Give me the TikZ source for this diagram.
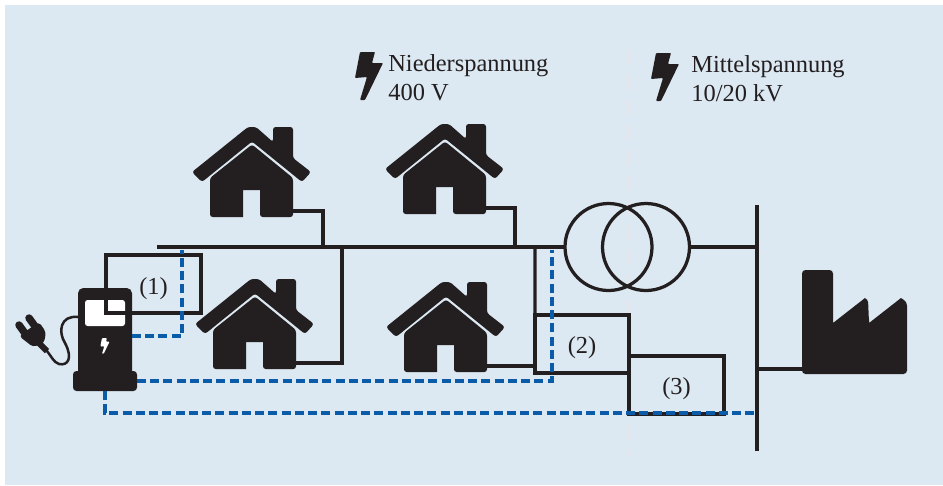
\documentclass[tikz,border=0pt]{standalone}
\usepackage{fontspec}
\setmainfont{Liberation Serif}
\usetikzlibrary{positioning,calc}
\definecolor{panelblue}{HTML}{DCE8F2}
\definecolor{inkblack}{HTML}{231F20}
\definecolor{linkblue}{HTML}{0B5CA8}
\definecolor{zonegray}{HTML}{E9E4E8}
\tikzset{
    wire/.style={draw=inkblack, line width=0.065cm},
    link/.style={draw=linkblue, line width=0.07cm, dash pattern=on 0.18cm off 0.085cm},
    boxnode/.style={rectangle, wire, inner sep=0pt, outer sep=0pt},
    coil/.style={circle, wire, minimum size=1.74cm, inner sep=0pt, outer sep=0pt},
    boxlabel/.style={font=\fontsize{13.9}{16.5}\selectfont, text=inkblack, inner sep=0pt},
    zonelabel/.style={boxlabel, align=left, anchor=base west},
    pics/house/.style={code={
        \fill[inkblack, rounded corners=1.5pt] (-42,51) -- (0,17.5) -- (41,51) -- (41,90) -- (8,90) [sharp corners] -- (8,63) -- (-9,63) -- (-9,90) [rounded corners=1.5pt] -- (-42,90) -- cycle;
        \fill[inkblack, rounded corners=1.5pt] (-60,45) -- (-50,55) -- (0,14.5) -- (50,55) -- (59,45) -- (41,31) -- (41,0) -- (21,0) -- (21,15) -- (4,0) -- (-4,0) -- cycle;
        \coordinate (-port) at (41,84);
    }},
    pics/bolt/.style={code={
        \fill[#1, rounded corners=0.5pt] (0,0) -- (15,0) -- (12,11) -- (23,11) -- (5,48) -- (0,48) -- (7,25) -- (-5,26) -- cycle;
    }},
    pics/charger/.style={code={
        \fill[inkblack, rounded corners=3pt] (-27,90) -- (-27,0) -- (27,0) -- (27,90) -- cycle;
        \fill[inkblack, rounded corners=2pt] (-32,83) -- (32,83) -- (32,103) -- (-32,103) -- cycle;
        \fill[white, rounded corners=1.5pt] (-20,12) -- (20,12) -- (20,38) -- (-20,38) -- cycle;
        \coordinate (-cable) at (-27,29);
        \coordinate (-screen) at (27,48);
        \coordinate (-base) at (32,93);
        \coordinate (-foot) at (0,103);
    }},
    pics/plug/.style={code={
        \fill[inkblack, rounded corners=2pt] (19,336) -- (39,322) -- (46,332) -- (44,343) -- (33,347) -- cycle;
        \draw[inkblack, line width=0.15cm, line cap=round] (29,318) -- (37,329);
        \draw[inkblack, line width=0.15cm, line cap=round] (19,325) -- (27,336);
        \draw[inkblack, line width=0.12cm] (38,342) -- (47,351);
        \coordinate (-tail) at (46,350);
    }},
    pics/factory/.style={code={
        \fill[inkblack, rounded corners=2pt] (0,0) -- (31,0) -- (31,53) [sharp corners] -- (31,53) -- (63,28) [rounded corners=2pt] -- (66,29) -- (67,53) [sharp corners] -- (67,53) -- (99,28) [rounded corners=2pt] -- (105,32) -- (105,104) -- (0,104) -- cycle;
        \coordinate (-port) at (0,99);
    }},
}
\begin{document}
\begin{tikzpicture}[x=0.02cm, y=-0.02cm]
    \useasboundingbox (0,0) rectangle (943,485);
    \fill[panelblue] (5,5) rectangle (943,485);

    % Zone border
    \coordinate (zoneTop) at (628,50);
    \coordinate (zoneBottom) at (628,457);
    \draw[zonegray, line width=0.05cm, dash pattern=on 0.3cm off 0.2cm] (zoneTop) -- (zoneBottom);

    % Voltage labels
    \pic (boltLV) at (360,52) {bolt=inkblack};
    \pic (boltMV) at (656,53) {bolt=inkblack};
    \node[zonelabel] (labelLV) at (388,100.5) {Niederspannung\\400 V};
    \node[zonelabel] (labelMV) at (691,101) {Mittelspannung\\10/20 kV};

    % Houses
    \pic (houseA) at (252,127) {house};
    \pic (houseB) at (445,124) {house};
    \pic (houseC) at (255,279) {house};
    \pic (houseD) at (446,282) {house};

    % Buses and transformer
    \coordinate (busStart) at (157,247);
    \node[coil] (coilLV) at (608.5,247) {};
    \node[coil] (coilMV) at (646,247) {};
    \coordinate (mvTop) at (757,205);
    \coordinate (mvBottom) at (757,451);
    \draw[wire] (busStart) -- (coilLV.west);
    \draw[wire] (coilMV.east) -- (mvTop |- coilMV.east);
    \draw[wire] (mvTop) -- (mvBottom);

    % Boxes (2) and (3)
    \node[boxnode, minimum width=1.88cm, minimum height=1.16cm] (boxTwo) at (582,344) {};
    \node[boxnode, minimum width=1.9cm, minimum height=1.16cm] (boxThree) at (676.5,385) {};
    \node[boxlabel, yshift=-0.07cm] (textTwo) at (boxTwo) {(2)};
    \node[boxlabel, yshift=-0.07cm] (textThree) at (boxThree) {(3)};

    % House connections
    \coordinate (tapA) at (323,247);
    \coordinate (tapB) at (515,247);
    \coordinate (tapC) at (342,247);
    \coordinate (tapBox) at (535,247);
    \draw[wire] (houseA-port) -| (tapA);
    \draw[wire] (houseB-port) -| (tapB);
    \draw[wire] (houseC-port) -| (tapC);
    \draw[wire] (houseD-port) -- (houseD-port -| boxTwo.west);
    \draw[wire] (tapBox) -- (boxTwo.north west);

    % Factory
    \pic (plant) at (802,270) {factory};
    \draw[wire] (mvTop |- plant-port) -- (plant-port);

    % Charging station
    \pic (station) at (105,288) {charger};
    \pic[scale=0.33] (boltCharge) at (102,338) {bolt=white};
    \node[boxnode, minimum width=1.9cm, minimum height=1.16cm] (boxOne) at (153.5,284) {};
    \node[boxlabel, yshift=-0.09cm] (textOne) at (boxOne) {(1)};
    \pic (plug) at (0,0) {plug};
    \draw[inkblack, line width=0.05cm] (station-cable) .. controls (60,315) and (58,332) .. (65,343) .. controls (73,358) and (68,366) .. (59,364) .. controls (54,363) and (50,354) .. (plug-tail);

    % Measurement links
    \coordinate (linkOne) at (182,250);
    \coordinate (linkTwo) at (552,250);
    \coordinate (linkThree) at (755,413);
    \draw[link] (station-screen) -| (linkOne);
    \draw[link] (station-base) -| (linkTwo);
    \draw[link] (station-foot) |- (linkThree);
\end{tikzpicture}
\end{document}
